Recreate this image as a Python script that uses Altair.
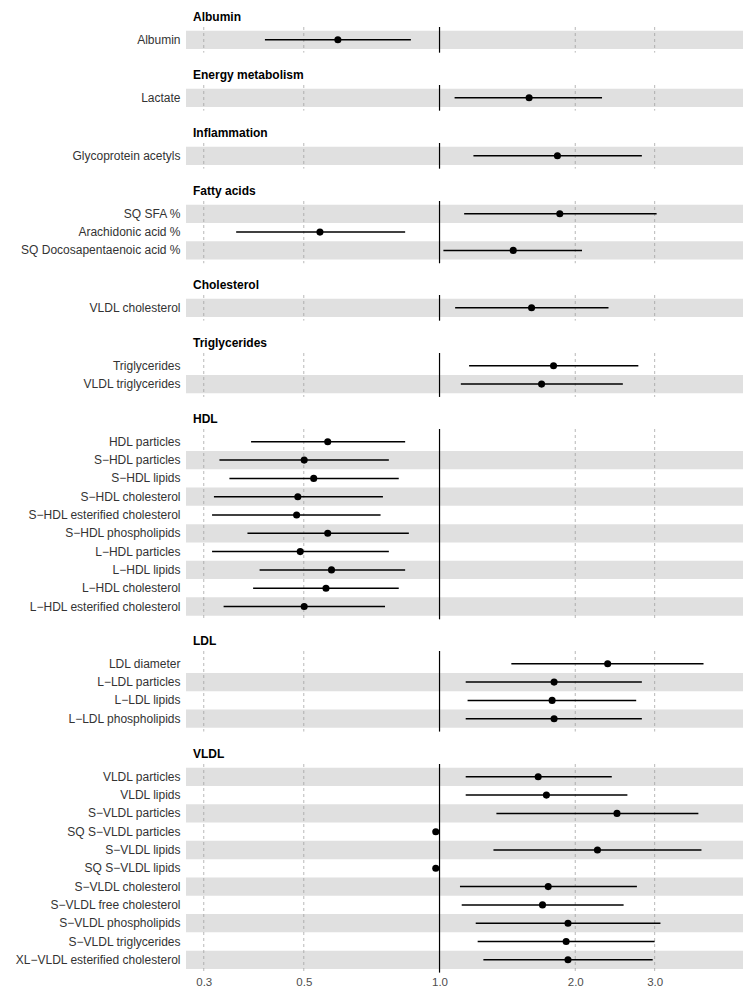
import altair as alt
import pandas as pd

FONT = "Liberation Sans"

group_names = ["Albumin", "Energy metabolism", "Inflammation", "Fatty acids",
               "Cholesterol", "Triglycerides", "HDL", "LDL", "VLDL"]

groups = (["Albumin"] + ["Energy metabolism"] + ["Inflammation"] + ["Fatty acids"] * 3
          + ["Cholesterol"] + ["Triglycerides"] * 2 + ["HDL"] * 10 + ["LDL"] * 4 + ["VLDL"] * 11)

metabolites = [
    "Albumin", "Lactate", "Glycoprotein acetyls",
    "SQ SFA %", "Arachidonic acid %", "SQ Docosapentaenoic acid %",
    "VLDL cholesterol",
    "Triglycerides", "VLDL triglycerides",
    "HDL particles", "S\u2212HDL particles", "S\u2212HDL lipids", "S\u2212HDL cholesterol",
    "S\u2212HDL esterified cholesterol", "S\u2212HDL phospholipids", "L\u2212HDL particles",
    "L\u2212HDL lipids", "L\u2212HDL cholesterol", "L\u2212HDL esterified cholesterol",
    "LDL diameter", "L\u2212LDL particles", "L\u2212LDL lipids", "L\u2212LDL phospholipids",
    "VLDL particles", "VLDL lipids", "S\u2212VLDL particles", "SQ S\u2212VLDL particles",
    "S\u2212VLDL lipids", "SQ S\u2212VLDL lipids", "S\u2212VLDL cholesterol",
    "S\u2212VLDL free cholesterol", "S\u2212VLDL phospholipids", "S\u2212VLDL triglycerides",
    "XL\u2212VLDL esterified cholesterol",
]

estimate = [0.595, 1.58, 1.826, 1.848, 0.543, 1.457, 1.60, 1.79, 1.684,
            0.565, 0.501, 0.526, 0.485, 0.482, 0.565, 0.491, 0.576, 0.560, 0.501,
            2.36, 1.795, 1.777, 1.795,
            1.655, 1.726, 2.475, 0.981, 2.24, 0.981, 1.742, 1.692, 1.927, 1.909, 1.927]
lower = [0.410, 1.080, 1.189, 1.134, 0.354, 1.02, 1.083, 1.163, 1.115,
         0.382, 0.325, 0.342, 0.316, 0.313, 0.375, 0.313, 0.399, 0.386, 0.332,
         1.443, 1.143, 1.154, 1.143,
         1.143, 1.143, 1.337, 0.975, 1.317, 0.975, 1.110, 1.120, 1.203, 1.215, 1.251]
upper = [0.864, 2.293, 2.81, 3.03, 0.839, 2.07, 2.37, 2.76, 2.55,
         0.839, 0.772, 0.812, 0.749, 0.740, 0.855, 0.772, 0.839, 0.812, 0.757,
         3.85, 2.81, 2.73, 2.81,
         2.41, 2.61, 3.75, 0.987, 3.81, 0.987, 2.74, 2.56, 3.09, 3.0, 2.97]

tick_values = [0.3, 0.5, 1.0, 2.0, 3.0]
x_domain = [0.274, 4.71]

df = pd.DataFrame({"group": groups, "metabolite": metabolites,
                   "estimate": estimate, "lower": lower, "upper": upper})
df["idx"] = df.groupby("group").cumcount()
df["n"] = df.groupby("group")["metabolite"].transform("count")
df["stripe"] = ((df["n"] - 1 - df["idx"]) % 2 == 0)

W = 557
STEP = 18.3
PO = 0.2

panels = []
for gi, g in enumerate(group_names):
    sub = df[df.group == g].reset_index(drop=True)
    n = len(sub)
    order = list(sub.metabolite)
    last = gi == len(group_names) - 1
    if last:
        xaxis = alt.Axis(values=tick_values, format=".1f", grid=False, domain=False,
                         ticks=False, labelFontSize=11.5, labelColor="#4d4d4d",
                         labelPadding=4, labelFont=FONT, title=None)
    else:
        xaxis = None
    xs = alt.Scale(type="log", domain=x_domain, nice=False)
    ysc = alt.Scale(domain=order, paddingInner=0, paddingOuter=PO)
    yax = alt.Axis(title=None, domain=False, ticks=False, labelFontSize=12,
                   labelColor="#333333", labelPadding=6, labelFont=FONT,
                   minExtent=178, maxExtent=178, labelLimit=200)
    base = alt.Chart(sub)
    bands = base.transform_filter("datum.stripe").mark_rect(color="#e0e0e0").encode(
        y=alt.Y("metabolite:N", scale=ysc, axis=yax),
        x=alt.value(0), x2=alt.value(W))
    grid = alt.Chart(pd.DataFrame({"tick": tick_values})).mark_rule(
        color="#9a9a9a", strokeDash=[3, 3], strokeWidth=0.7).encode(
        x=alt.X("tick:Q", scale=xs, axis=xaxis))
    ref = alt.Chart(pd.DataFrame({"ref": [1.0]})).mark_rule(
        color="black", strokeWidth=1.2).encode(
        x=alt.X("ref:Q", scale=xs, axis=xaxis))
    err = base.mark_rule(color="black", strokeWidth=1.5).encode(
        x=alt.X("lower:Q", scale=xs, axis=xaxis), x2="upper:Q",
        y=alt.Y("metabolite:N", scale=ysc, axis=yax))
    pts = base.mark_circle(color="black", size=50, opacity=1).encode(
        x=alt.X("estimate:Q", scale=xs, axis=xaxis),
        y=alt.Y("metabolite:N", scale=ysc, axis=yax))
    panel = alt.layer(bands, grid, ref, err, pts).properties(
        width=W, height=STEP * (n + 2 * PO),
        title=alt.TitleParams(text=g, anchor="start", frame="group", fontSize=12,
                              fontWeight="bold", font=FONT, color="black",
                              offset=2, dx=7))
    panels.append(panel)

chart = alt.vconcat(*panels, spacing=15).resolve_scale(
    y="independent", x="independent").configure_view(stroke=None).properties(
    padding={"left": 0, "top": 3, "right": 0, "bottom": 0})

chart.save("out.html", embed_options={"renderer": "svg", "actions": False})
